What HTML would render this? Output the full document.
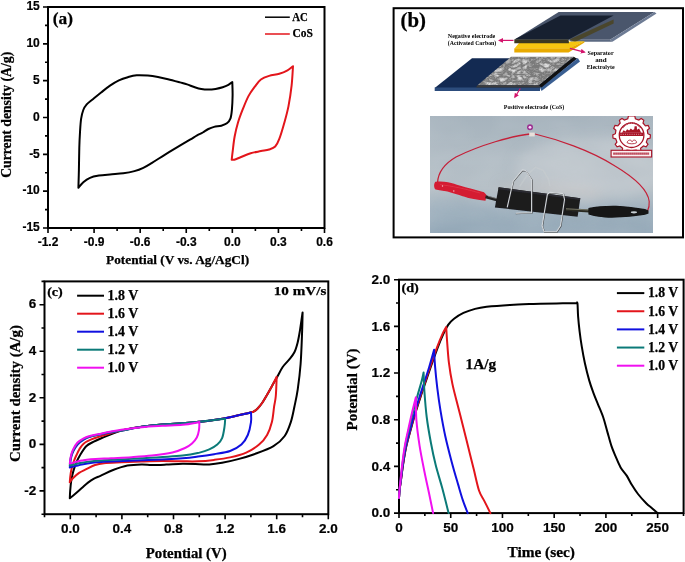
<!DOCTYPE html>
<html><head><meta charset="utf-8"><style>
html,body{margin:0;padding:0;background:#fff;}
svg{display:block;}
svg{will-change:transform;}
</style></head><body>
<svg width="685" height="562" viewBox="0 0 685 562">
<rect width="685" height="562" fill="#fff"/>
<rect x="48" y="7" width="276.50" height="221.00" fill="none" stroke="#000" stroke-width="2"/>
<path d="M48.00,228 v5 M94.08,228 v5 M140.17,228 v5 M186.25,228 v5 M232.33,228 v5 M278.42,228 v5 M324.50,228 v5 M71.04,228 v3 M117.12,228 v3 M163.21,228 v3 M209.29,228 v3 M255.38,228 v3 M301.46,228 v3 " stroke="#000" stroke-width="1.6" fill="none"/>
<text x="48.00" y="245.50" style="font-family:'Liberation Sans',sans-serif;font-weight:bold;font-size:12px" text-anchor="middle" fill="#000" stroke="#000" stroke-width="0.2" >-1.2</text>
<text x="94.08" y="245.50" style="font-family:'Liberation Sans',sans-serif;font-weight:bold;font-size:12px" text-anchor="middle" fill="#000" stroke="#000" stroke-width="0.2" >-0.9</text>
<text x="140.17" y="245.50" style="font-family:'Liberation Sans',sans-serif;font-weight:bold;font-size:12px" text-anchor="middle" fill="#000" stroke="#000" stroke-width="0.2" >-0.6</text>
<text x="186.25" y="245.50" style="font-family:'Liberation Sans',sans-serif;font-weight:bold;font-size:12px" text-anchor="middle" fill="#000" stroke="#000" stroke-width="0.2" >-0.3</text>
<text x="232.33" y="245.50" style="font-family:'Liberation Sans',sans-serif;font-weight:bold;font-size:12px" text-anchor="middle" fill="#000" stroke="#000" stroke-width="0.2" >0.0</text>
<text x="278.42" y="245.50" style="font-family:'Liberation Sans',sans-serif;font-weight:bold;font-size:12px" text-anchor="middle" fill="#000" stroke="#000" stroke-width="0.2" >0.3</text>
<text x="324.50" y="245.50" style="font-family:'Liberation Sans',sans-serif;font-weight:bold;font-size:12px" text-anchor="middle" fill="#000" stroke="#000" stroke-width="0.2" >0.6</text>
<path d="M48,7.00 h-5 M48,43.83 h-5 M48,80.67 h-5 M48,117.50 h-5 M48,154.33 h-5 M48,191.17 h-5 M48,228.00 h-5 M48,25.42 h-3 M48,62.25 h-3 M48,99.08 h-3 M48,135.92 h-3 M48,172.75 h-3 M48,209.58 h-3 " stroke="#000" stroke-width="1.6" fill="none"/>
<text x="39.80" y="10.30" style="font-family:'Liberation Sans',sans-serif;font-weight:bold;font-size:12px" text-anchor="end" fill="#000" stroke="#000" stroke-width="0.2" >15</text>
<text x="39.80" y="47.13" style="font-family:'Liberation Sans',sans-serif;font-weight:bold;font-size:12px" text-anchor="end" fill="#000" stroke="#000" stroke-width="0.2" >10</text>
<text x="39.80" y="83.97" style="font-family:'Liberation Sans',sans-serif;font-weight:bold;font-size:12px" text-anchor="end" fill="#000" stroke="#000" stroke-width="0.2" >5</text>
<text x="39.80" y="120.80" style="font-family:'Liberation Sans',sans-serif;font-weight:bold;font-size:12px" text-anchor="end" fill="#000" stroke="#000" stroke-width="0.2" >0</text>
<text x="39.80" y="157.63" style="font-family:'Liberation Sans',sans-serif;font-weight:bold;font-size:12px" text-anchor="end" fill="#000" stroke="#000" stroke-width="0.2" >-5</text>
<text x="39.80" y="194.47" style="font-family:'Liberation Sans',sans-serif;font-weight:bold;font-size:12px" text-anchor="end" fill="#000" stroke="#000" stroke-width="0.2" >-10</text>
<text x="39.80" y="231.30" style="font-family:'Liberation Sans',sans-serif;font-weight:bold;font-size:12px" text-anchor="end" fill="#000" stroke="#000" stroke-width="0.2" >-15</text>
<path d="M78.40,187.80 C78.48,184.83 78.75,176.67 78.90,170.00 C79.05,163.33 79.12,154.10 79.30,147.80 C79.48,141.50 79.70,137.02 80.00,132.20 C80.30,127.38 80.55,122.60 81.10,118.90 C81.65,115.20 82.37,112.42 83.30,110.00 C84.23,107.58 85.22,106.10 86.70,104.40 C88.18,102.70 89.80,101.78 92.20,99.80 C94.60,97.82 98.13,94.87 101.10,92.50 C104.07,90.13 107.03,87.62 110.00,85.60 C112.97,83.58 115.93,81.80 118.90,80.40 C121.87,79.00 124.83,78.05 127.80,77.20 C130.77,76.35 133.37,75.57 136.70,75.30 C140.03,75.03 144.25,75.32 147.80,75.60 C151.35,75.88 154.63,76.40 158.00,77.00 C161.37,77.60 164.33,78.30 168.00,79.20 C171.67,80.10 176.82,81.53 180.00,82.40 C183.18,83.27 184.73,83.63 187.10,84.40 C189.47,85.17 191.83,86.23 194.20,87.00 C196.57,87.77 198.93,88.57 201.30,89.00 C203.67,89.43 206.02,89.62 208.40,89.60 C210.78,89.58 213.22,89.28 215.60,88.90 C217.98,88.52 220.57,87.97 222.70,87.30 C224.83,86.63 226.80,85.78 228.40,84.90 C230.00,84.02 231.65,82.48 232.30,82.00 L232.30,82.00 C232.35,84.27 232.67,90.97 232.60,95.60 C232.53,100.23 232.25,106.02 231.90,109.80 C231.55,113.58 231.33,116.05 230.50,118.30 C229.67,120.55 228.43,122.07 226.90,123.30 C225.37,124.53 223.43,125.10 221.30,125.70 C219.17,126.30 216.25,126.35 214.10,126.90 C211.95,127.45 210.28,128.07 208.40,129.00 C206.52,129.93 204.68,131.43 202.80,132.50 C200.92,133.57 199.23,134.20 197.10,135.40 C194.97,136.60 193.15,137.82 190.00,139.70 C186.85,141.58 182.35,144.22 178.20,146.70 C174.05,149.18 169.47,151.92 165.10,154.60 C160.73,157.28 155.63,160.60 152.00,162.80 C148.37,165.00 146.23,166.42 143.30,167.80 C140.37,169.18 137.73,170.18 134.40,171.10 C131.07,172.02 127.37,172.75 123.30,173.30 C119.23,173.85 114.07,174.02 110.00,174.40 C105.93,174.78 102.23,175.03 98.90,175.60 C95.57,176.17 92.60,176.70 90.00,177.80 C87.40,178.90 85.23,180.53 83.30,182.20 C81.37,183.87 79.22,186.87 78.40,187.80" stroke="#000" stroke-width="2" fill="none" stroke-linejoin="round" stroke-linecap="round"/>
<path d="M231.70,159.70 C231.87,158.27 232.22,154.92 232.70,151.10 C233.18,147.28 233.72,141.57 234.60,136.80 C235.48,132.03 236.57,127.27 238.00,122.50 C239.43,117.73 241.43,112.63 243.20,108.20 C244.97,103.77 246.67,99.48 248.60,95.90 C250.53,92.32 252.75,89.43 254.80,86.70 C256.85,83.97 258.52,81.30 260.90,79.50 C263.28,77.70 266.03,76.85 269.10,75.90 C272.17,74.95 276.23,74.73 279.30,73.80 C282.37,72.87 285.22,71.57 287.50,70.30 C289.78,69.03 292.08,66.88 293.00,66.20 L293.00,66.20 C292.77,69.45 292.35,79.05 291.60,85.70 C290.85,92.35 289.70,99.97 288.50,106.10 C287.30,112.23 285.93,117.03 284.40,122.50 C282.87,127.97 280.83,134.90 279.30,138.90 C277.77,142.90 276.90,144.73 275.20,146.50 C273.50,148.27 271.48,148.73 269.10,149.50 C266.72,150.27 263.97,150.48 260.90,151.10 C257.83,151.72 254.10,152.17 250.70,153.20 C247.30,154.23 243.23,156.22 240.50,157.30 C237.77,158.38 235.77,159.30 234.30,159.70 C232.83,160.10 232.13,159.70 231.70,159.70" stroke="#e3151b" stroke-width="2" fill="none" stroke-linejoin="round" stroke-linecap="round"/>
<path d="M265,17.2 H289.8" stroke="#000" stroke-width="1.5"/>
<path d="M265,34 H289.8" stroke="#e3151b" stroke-width="1.5"/>
<text x="292.30" y="21.20" style="font-family:'Liberation Serif',serif;font-weight:bold;font-size:13.2px" text-anchor="start" fill="#000" textLength="15.6" lengthAdjust="spacingAndGlyphs" stroke="#000" stroke-width="0.25" >AC</text>
<text x="292.40" y="37.20" style="font-family:'Liberation Serif',serif;font-weight:bold;font-size:13px" text-anchor="start" fill="#000" textLength="20.4" lengthAdjust="spacingAndGlyphs" stroke="#000" stroke-width="0.25" >CoS</text>
<text x="52.80" y="24.40" style="font-family:'Liberation Serif',serif;font-weight:bold;font-size:17.5px" text-anchor="start" fill="#000" textLength="20.2" lengthAdjust="spacingAndGlyphs" stroke="#000" stroke-width="0.25" >(a)</text>
<text x="177.60" y="263.70" style="font-family:'Liberation Serif',serif;font-weight:bold;font-size:13px" text-anchor="middle" fill="#000" textLength="143" lengthAdjust="spacingAndGlyphs" stroke="#000" stroke-width="0.25" >Potential (V vs. Ag/AgCl)</text>
<text transform="translate(11.3,114.8) rotate(-90)" x="0" y="0" stroke="#000" stroke-width="0.25" style="font-family:'Liberation Serif',serif;font-weight:bold;font-size:14.5px" text-anchor="middle" textLength="126" lengthAdjust="spacingAndGlyphs">Current density (A/g)</text>
<rect x="44.5" y="281.4" width="283.80" height="232.80" fill="none" stroke="#000" stroke-width="2"/>
<path d="M70.30,514.2 v5 M121.90,514.2 v5 M173.50,514.2 v5 M225.10,514.2 v5 M276.70,514.2 v5 M328.30,514.2 v5 M44.50,514.2 v3 M96.10,514.2 v3 M147.70,514.2 v3 M199.30,514.2 v3 M250.90,514.2 v3 M302.50,514.2 v3 " stroke="#000" stroke-width="1.6" fill="none"/>
<text x="70.30" y="533.30" style="font-family:'Liberation Sans',sans-serif;font-weight:bold;font-size:13.5px" text-anchor="middle" fill="#000" stroke="#000" stroke-width="0.2" >0.0</text>
<text x="121.90" y="533.30" style="font-family:'Liberation Sans',sans-serif;font-weight:bold;font-size:13.5px" text-anchor="middle" fill="#000" stroke="#000" stroke-width="0.2" >0.4</text>
<text x="173.50" y="533.30" style="font-family:'Liberation Sans',sans-serif;font-weight:bold;font-size:13.5px" text-anchor="middle" fill="#000" stroke="#000" stroke-width="0.2" >0.8</text>
<text x="225.10" y="533.30" style="font-family:'Liberation Sans',sans-serif;font-weight:bold;font-size:13.5px" text-anchor="middle" fill="#000" stroke="#000" stroke-width="0.2" >1.2</text>
<text x="276.70" y="533.30" style="font-family:'Liberation Sans',sans-serif;font-weight:bold;font-size:13.5px" text-anchor="middle" fill="#000" stroke="#000" stroke-width="0.2" >1.6</text>
<text x="328.30" y="533.30" style="font-family:'Liberation Sans',sans-serif;font-weight:bold;font-size:13.5px" text-anchor="middle" fill="#000" stroke="#000" stroke-width="0.2" >2.0</text>
<path d="M44.5,304.68 h-5 M44.5,351.24 h-5 M44.5,397.80 h-5 M44.5,444.36 h-5 M44.5,490.92 h-5 M44.5,281.40 h-3 M44.5,327.96 h-3 M44.5,374.52 h-3 M44.5,421.08 h-3 M44.5,467.64 h-3 M44.5,514.20 h-3 " stroke="#000" stroke-width="1.6" fill="none"/>
<text x="36.20" y="308.38" style="font-family:'Liberation Sans',sans-serif;font-weight:bold;font-size:13.5px" text-anchor="end" fill="#000" stroke="#000" stroke-width="0.2" >6</text>
<text x="36.20" y="354.94" style="font-family:'Liberation Sans',sans-serif;font-weight:bold;font-size:13.5px" text-anchor="end" fill="#000" stroke="#000" stroke-width="0.2" >4</text>
<text x="36.20" y="401.50" style="font-family:'Liberation Sans',sans-serif;font-weight:bold;font-size:13.5px" text-anchor="end" fill="#000" stroke="#000" stroke-width="0.2" >2</text>
<text x="36.20" y="448.06" style="font-family:'Liberation Sans',sans-serif;font-weight:bold;font-size:13.5px" text-anchor="end" fill="#000" stroke="#000" stroke-width="0.2" >0</text>
<text x="36.20" y="494.62" style="font-family:'Liberation Sans',sans-serif;font-weight:bold;font-size:13.5px" text-anchor="end" fill="#000" stroke="#000" stroke-width="0.2" >-2</text>
<text x="47.20" y="296.20" style="font-family:'Liberation Serif',serif;font-weight:bold;font-size:13px" text-anchor="start" fill="#000" textLength="15.6" lengthAdjust="spacingAndGlyphs" stroke="#000" stroke-width="0.25" >(c)</text>
<text x="273.80" y="295.00" style="font-family:'Liberation Serif',serif;font-weight:bold;font-size:13.5px" text-anchor="start" fill="#000" textLength="52.5" lengthAdjust="spacingAndGlyphs" stroke="#000" stroke-width="0.25" >10 mV/s</text>
<path d="M77.1,295.70 H104" stroke="#000" stroke-width="2"/>
<text x="107.60" y="299.80" style="font-family:'Liberation Serif',serif;font-weight:bold;font-size:14.2px" text-anchor="start" fill="#000" textLength="30.6" lengthAdjust="spacingAndGlyphs" stroke="#000" stroke-width="0.25" >1.8 V</text>
<path d="M77.1,313.70 H104" stroke="#e3151b" stroke-width="2"/>
<text x="107.60" y="317.80" style="font-family:'Liberation Serif',serif;font-weight:bold;font-size:14.2px" text-anchor="start" fill="#000" textLength="30.6" lengthAdjust="spacingAndGlyphs" stroke="#000" stroke-width="0.25" >1.6 V</text>
<path d="M77.1,331.70 H104" stroke="#1010e0" stroke-width="2"/>
<text x="107.60" y="335.80" style="font-family:'Liberation Serif',serif;font-weight:bold;font-size:14.2px" text-anchor="start" fill="#000" textLength="30.6" lengthAdjust="spacingAndGlyphs" stroke="#000" stroke-width="0.25" >1.4 V</text>
<path d="M77.1,349.70 H104" stroke="#0b7a78" stroke-width="2"/>
<text x="107.60" y="353.80" style="font-family:'Liberation Serif',serif;font-weight:bold;font-size:14.2px" text-anchor="start" fill="#000" textLength="30.6" lengthAdjust="spacingAndGlyphs" stroke="#000" stroke-width="0.25" >1.2 V</text>
<path d="M77.1,367.70 H104" stroke="#f010f0" stroke-width="2"/>
<text x="107.60" y="371.80" style="font-family:'Liberation Serif',serif;font-weight:bold;font-size:14.2px" text-anchor="start" fill="#000" textLength="30.6" lengthAdjust="spacingAndGlyphs" stroke="#000" stroke-width="0.25" >1.0 V</text>
<text x="186.20" y="558.00" style="font-family:'Liberation Serif',serif;font-weight:bold;font-size:14px" text-anchor="middle" fill="#000" textLength="80.9" lengthAdjust="spacingAndGlyphs" stroke="#000" stroke-width="0.25" >Potential (V)</text>
<text transform="translate(20.2,393.6) rotate(-90)" x="0" y="0" stroke="#000" stroke-width="0.25" style="font-family:'Liberation Serif',serif;font-weight:bold;font-size:15.2px" text-anchor="middle" textLength="137" lengthAdjust="spacingAndGlyphs">Current density (A/g)</text>
<path d="M69.80,498.20 C69.87,496.93 69.98,493.35 70.20,490.60 C70.42,487.85 70.72,484.37 71.10,481.70 C71.48,479.03 71.98,476.82 72.50,474.60 C73.02,472.38 73.53,470.48 74.20,468.40 C74.87,466.32 75.60,464.18 76.50,462.10 C77.40,460.02 77.98,458.53 79.60,455.90 C81.22,453.27 83.92,448.63 86.20,446.30 C88.48,443.97 90.78,443.23 93.30,441.90 C95.82,440.57 96.63,440.18 101.30,438.30 C105.97,436.42 114.57,432.52 121.30,430.60 C128.03,428.68 134.88,427.83 141.70,426.80 C148.52,425.77 155.38,425.00 162.20,424.40 C169.02,423.80 176.47,423.63 182.60,423.20 C188.73,422.77 192.13,422.60 199.00,421.80 C205.87,421.00 215.38,419.92 223.80,418.40 C232.22,416.88 244.55,413.83 249.50,412.70 C254.45,411.57 252.18,412.25 253.50,411.60 C254.82,410.95 255.93,410.27 257.40,408.80 C258.87,407.33 260.68,405.13 262.30,402.80 C263.92,400.47 265.48,397.60 267.10,394.80 C268.72,392.00 270.30,389.00 272.00,386.00 C273.70,383.00 275.52,379.97 277.30,376.80 C279.08,373.63 280.73,369.85 282.70,367.00 C284.67,364.15 287.15,362.15 289.10,359.70 C291.05,357.25 292.98,355.13 294.40,352.30 C295.82,349.47 296.72,346.08 297.60,342.70 C298.48,339.32 298.98,336.27 299.70,332.00 C300.42,327.73 301.42,320.37 301.90,317.10 C302.38,313.83 302.48,313.18 302.60,312.40 L302.60,312.40 C302.52,315.67 302.43,323.40 302.10,332.00 C301.77,340.60 301.33,354.40 300.60,364.00 C299.87,373.60 298.73,382.48 297.70,389.60 C296.67,396.72 295.55,401.28 294.40,406.70 C293.25,412.12 292.42,417.22 290.80,422.10 C289.18,426.98 287.58,431.98 284.70,436.00 C281.82,440.02 278.58,443.17 273.50,446.20 C268.42,449.23 260.08,452.05 254.20,454.20 C248.32,456.35 243.55,457.67 238.20,459.10 C232.85,460.53 226.92,461.90 222.10,462.80 C217.28,463.70 213.05,464.27 209.30,464.50 C205.55,464.73 204.05,464.32 199.60,464.20 C195.15,464.08 188.15,463.73 182.60,463.80 C177.05,463.87 171.40,464.40 166.30,464.60 C161.20,464.80 156.10,465.03 152.00,465.00 C147.90,464.97 145.80,464.32 141.70,464.40 C137.60,464.48 132.17,464.57 127.40,465.50 C122.63,466.43 117.52,468.32 113.10,470.00 C108.68,471.68 104.08,474.17 100.90,475.60 C97.72,477.03 96.15,477.43 94.00,478.60 C91.85,479.77 90.03,481.03 88.00,482.60 C85.97,484.17 84.02,486.07 81.80,488.00 C79.58,489.93 76.70,492.50 74.70,494.20 C72.70,495.90 70.62,497.53 69.80,498.20" stroke="#000" stroke-width="2" fill="none" stroke-linejoin="round" stroke-linecap="round"/>
<path d="M69.80,482.20 C69.87,481.38 69.98,479.17 70.20,477.30 C70.42,475.43 70.72,472.93 71.10,471.00 C71.48,469.07 71.98,467.48 72.50,465.70 C73.02,463.92 73.53,462.08 74.20,460.30 C74.87,458.52 75.62,456.88 76.50,455.00 C77.38,453.12 78.32,450.88 79.50,449.00 C80.68,447.12 81.73,445.25 83.60,443.70 C85.47,442.15 88.03,440.88 90.70,439.70 C93.37,438.52 96.38,437.63 99.60,436.60 C102.82,435.57 106.38,434.50 110.00,433.50 C113.62,432.50 116.02,431.72 121.30,430.60 C126.58,429.48 134.88,427.83 141.70,426.80 C148.52,425.77 155.38,425.00 162.20,424.40 C169.02,423.80 176.47,423.63 182.60,423.20 C188.73,422.77 192.13,422.60 199.00,421.80 C205.87,421.00 215.38,419.92 223.80,418.40 C232.22,416.88 244.55,413.83 249.50,412.70 C254.45,411.57 252.18,412.25 253.50,411.60 C254.82,410.95 255.93,410.27 257.40,408.80 C258.87,407.33 260.68,405.13 262.30,402.80 C263.92,400.47 265.48,397.60 267.10,394.80 C268.72,392.00 270.40,389.00 272.00,386.00 C273.60,383.00 275.92,378.33 276.70,376.80 L276.70,376.80 C276.55,380.00 276.23,391.02 275.80,396.00 C275.37,400.98 274.75,402.35 274.10,406.70 C273.45,411.05 273.07,417.38 271.90,422.10 C270.73,426.82 269.23,431.25 267.10,435.00 C264.97,438.75 262.58,441.67 259.10,444.60 C255.62,447.53 251.03,450.47 246.20,452.60 C241.37,454.73 235.45,456.18 230.10,457.40 C224.75,458.62 219.45,459.25 214.10,459.90 C208.75,460.55 203.25,461.07 198.00,461.30 C192.75,461.53 188.57,461.35 182.60,461.30 C176.63,461.25 169.02,460.97 162.20,461.00 C155.38,461.03 148.52,461.28 141.70,461.50 C134.88,461.72 127.58,462.02 121.30,462.30 C115.02,462.58 108.37,462.75 104.00,463.20 C99.63,463.65 98.05,464.00 95.10,465.00 C92.15,466.00 88.97,467.90 86.30,469.20 C83.63,470.50 81.33,471.30 79.10,472.80 C76.87,474.30 74.45,476.63 72.90,478.20 C71.35,479.77 70.32,481.53 69.80,482.20" stroke="#e3151b" stroke-width="2" fill="none" stroke-linejoin="round" stroke-linecap="round"/>
<path d="M69.80,467.50 C69.88,466.58 70.03,463.83 70.30,462.00 C70.57,460.17 70.90,458.30 71.40,456.50 C71.90,454.70 72.27,453.20 73.30,451.20 C74.33,449.20 75.85,446.43 77.60,444.50 C79.35,442.57 81.60,440.92 83.80,439.60 C86.00,438.28 88.13,437.43 90.80,436.60 C93.47,435.77 96.60,435.27 99.80,434.60 C103.00,433.93 106.42,433.27 110.00,432.60 C113.58,431.93 116.02,431.57 121.30,430.60 C126.58,429.63 134.88,427.83 141.70,426.80 C148.52,425.77 155.38,425.00 162.20,424.40 C169.02,423.80 176.47,423.63 182.60,423.20 C188.73,422.77 192.13,422.60 199.00,421.80 C205.87,421.00 215.13,419.95 223.80,418.40 C232.47,416.85 246.47,413.48 251.00,412.50 L251.00,412.50 C251.00,414.10 251.53,418.35 251.00,422.10 C250.47,425.85 249.40,431.25 247.80,435.00 C246.20,438.75 244.35,441.93 241.40,444.60 C238.45,447.27 234.65,449.40 230.10,451.00 C225.55,452.60 219.45,453.27 214.10,454.20 C208.75,455.13 203.25,455.93 198.00,456.60 C192.75,457.27 191.98,457.58 182.60,458.20 C173.22,458.82 154.80,459.70 141.70,460.30 C128.60,460.90 111.95,461.42 104.00,461.80 C96.05,462.18 97.70,462.15 94.00,462.60 C90.30,463.05 85.83,463.68 81.80,464.50 C77.77,465.32 71.80,467.00 69.80,467.50" stroke="#1010e0" stroke-width="2" fill="none" stroke-linejoin="round" stroke-linecap="round"/>
<path d="M69.80,465.50 C69.88,464.67 70.05,462.17 70.30,460.50 C70.55,458.83 70.83,457.17 71.30,455.50 C71.77,453.83 72.08,452.48 73.10,450.50 C74.12,448.52 75.63,445.52 77.40,443.60 C79.17,441.68 81.48,440.23 83.70,439.00 C85.92,437.77 88.03,436.98 90.70,436.20 C93.37,435.42 96.48,434.97 99.70,434.30 C102.92,433.63 106.40,432.82 110.00,432.20 C113.60,431.58 116.02,431.50 121.30,430.60 C126.58,429.70 134.88,427.83 141.70,426.80 C148.52,425.77 155.38,425.00 162.20,424.40 C169.02,423.80 176.47,423.63 182.60,423.20 C188.73,422.77 191.90,422.55 199.00,421.80 C206.10,421.05 220.83,419.22 225.20,418.70 L225.20,418.70 C225.08,420.07 225.02,423.65 224.50,426.90 C223.98,430.15 223.30,435.25 222.10,438.20 C220.90,441.15 219.43,442.73 217.30,444.60 C215.17,446.47 212.25,448.07 209.30,449.40 C206.35,450.73 204.05,451.58 199.60,452.60 C195.15,453.62 192.25,454.55 182.60,455.50 C172.95,456.45 154.80,457.52 141.70,458.30 C128.60,459.08 111.95,459.75 104.00,460.20 C96.05,460.65 97.70,460.58 94.00,461.00 C90.30,461.42 85.83,461.95 81.80,462.70 C77.77,463.45 71.80,465.03 69.80,465.50" stroke="#0b7a78" stroke-width="2" fill="none" stroke-linejoin="round" stroke-linecap="round"/>
<path d="M69.80,463.50 C69.95,462.42 70.18,459.27 70.70,457.00 C71.22,454.73 71.80,452.27 72.90,449.90 C74.00,447.53 75.52,444.73 77.30,442.80 C79.08,440.87 81.37,439.48 83.60,438.30 C85.83,437.12 88.03,436.43 90.70,435.70 C93.37,434.97 96.38,434.55 99.60,433.90 C102.82,433.25 106.38,432.48 110.00,431.80 C113.62,431.12 116.02,430.57 121.30,429.80 C126.58,429.03 134.88,427.87 141.70,427.20 C148.52,426.53 155.38,426.20 162.20,425.80 C169.02,425.40 176.40,425.42 182.60,424.80 C188.80,424.18 196.60,422.55 199.40,422.10 L199.40,422.10 C199.33,423.42 199.43,427.43 199.00,430.00 C198.57,432.57 197.97,435.25 196.80,437.50 C195.63,439.75 193.97,441.75 192.00,443.50 C190.03,445.25 188.27,446.50 185.00,448.00 C181.73,449.50 177.90,451.23 172.40,452.50 C166.90,453.77 158.82,454.82 152.00,455.60 C145.18,456.38 138.32,456.77 131.50,457.20 C124.68,457.63 117.90,457.87 111.10,458.20 C104.30,458.53 95.58,458.80 90.70,459.20 C85.82,459.60 85.28,459.88 81.80,460.60 C78.32,461.32 71.80,463.02 69.80,463.50" stroke="#f010f0" stroke-width="2" fill="none" stroke-linejoin="round" stroke-linecap="round"/>
<rect x="399.0" y="279.7" width="284.60" height="233.40" fill="none" stroke="#000" stroke-width="2"/>
<path d="M399.00,513.1 v5 M450.73,513.1 v5 M502.45,513.1 v5 M554.18,513.1 v5 M605.91,513.1 v5 M657.63,513.1 v5 M424.86,513.1 v3 M476.59,513.1 v3 M528.32,513.1 v3 M580.04,513.1 v3 M631.77,513.1 v3 M683.50,513.1 v3 " stroke="#000" stroke-width="1.6" fill="none"/>
<text x="399.00" y="532.10" style="font-family:'Liberation Sans',sans-serif;font-weight:bold;font-size:13.5px" text-anchor="middle" fill="#000" stroke="#000" stroke-width="0.2" >0</text>
<text x="450.73" y="532.10" style="font-family:'Liberation Sans',sans-serif;font-weight:bold;font-size:13.5px" text-anchor="middle" fill="#000" stroke="#000" stroke-width="0.2" >50</text>
<text x="502.45" y="532.10" style="font-family:'Liberation Sans',sans-serif;font-weight:bold;font-size:13.5px" text-anchor="middle" fill="#000" stroke="#000" stroke-width="0.2" >100</text>
<text x="554.18" y="532.10" style="font-family:'Liberation Sans',sans-serif;font-weight:bold;font-size:13.5px" text-anchor="middle" fill="#000" stroke="#000" stroke-width="0.2" >150</text>
<text x="605.91" y="532.10" style="font-family:'Liberation Sans',sans-serif;font-weight:bold;font-size:13.5px" text-anchor="middle" fill="#000" stroke="#000" stroke-width="0.2" >200</text>
<text x="657.63" y="532.10" style="font-family:'Liberation Sans',sans-serif;font-weight:bold;font-size:13.5px" text-anchor="middle" fill="#000" stroke="#000" stroke-width="0.2" >250</text>
<path d="M399.0,513.10 h-5 M399.0,466.42 h-5 M399.0,419.74 h-5 M399.0,373.06 h-5 M399.0,326.38 h-5 M399.0,279.70 h-5 M399.0,489.76 h-3 M399.0,443.08 h-3 M399.0,396.40 h-3 M399.0,349.72 h-3 M399.0,303.04 h-3 " stroke="#000" stroke-width="1.6" fill="none"/>
<text x="390.40" y="517.40" style="font-family:'Liberation Sans',sans-serif;font-weight:bold;font-size:13.5px" text-anchor="end" fill="#000" stroke="#000" stroke-width="0.2" >0.0</text>
<text x="390.40" y="470.72" style="font-family:'Liberation Sans',sans-serif;font-weight:bold;font-size:13.5px" text-anchor="end" fill="#000" stroke="#000" stroke-width="0.2" >0.4</text>
<text x="390.40" y="424.04" style="font-family:'Liberation Sans',sans-serif;font-weight:bold;font-size:13.5px" text-anchor="end" fill="#000" stroke="#000" stroke-width="0.2" >0.8</text>
<text x="390.40" y="377.36" style="font-family:'Liberation Sans',sans-serif;font-weight:bold;font-size:13.5px" text-anchor="end" fill="#000" stroke="#000" stroke-width="0.2" >1.2</text>
<text x="390.40" y="330.68" style="font-family:'Liberation Sans',sans-serif;font-weight:bold;font-size:13.5px" text-anchor="end" fill="#000" stroke="#000" stroke-width="0.2" >1.6</text>
<text x="390.40" y="284.00" style="font-family:'Liberation Sans',sans-serif;font-weight:bold;font-size:13.5px" text-anchor="end" fill="#000" stroke="#000" stroke-width="0.2" >2.0</text>
<text x="401.40" y="291.90" style="font-family:'Liberation Serif',serif;font-weight:bold;font-size:13px" text-anchor="start" fill="#000" textLength="17.4" lengthAdjust="spacingAndGlyphs" stroke="#000" stroke-width="0.25" >(d)</text>
<text x="465.50" y="369.30" style="font-family:'Liberation Serif',serif;font-weight:bold;font-size:14px" text-anchor="start" fill="#000" textLength="30.5" lengthAdjust="spacingAndGlyphs" stroke="#000" stroke-width="0.25" >1A/g</text>
<path d="M616.9,293.10 H644.3" stroke="#000" stroke-width="2"/>
<text x="647.90" y="297.40" style="font-family:'Liberation Serif',serif;font-weight:bold;font-size:14.2px" text-anchor="start" fill="#000" textLength="30.3" lengthAdjust="spacingAndGlyphs" stroke="#000" stroke-width="0.25" >1.8 V</text>
<path d="M616.9,311.25 H644.3" stroke="#e3151b" stroke-width="2"/>
<text x="647.90" y="315.55" style="font-family:'Liberation Serif',serif;font-weight:bold;font-size:14.2px" text-anchor="start" fill="#000" textLength="30.3" lengthAdjust="spacingAndGlyphs" stroke="#000" stroke-width="0.25" >1.6 V</text>
<path d="M616.9,329.40 H644.3" stroke="#1010e0" stroke-width="2"/>
<text x="647.90" y="333.70" style="font-family:'Liberation Serif',serif;font-weight:bold;font-size:14.2px" text-anchor="start" fill="#000" textLength="30.3" lengthAdjust="spacingAndGlyphs" stroke="#000" stroke-width="0.25" >1.4 V</text>
<path d="M616.9,347.55 H644.3" stroke="#0b7a78" stroke-width="2"/>
<text x="647.90" y="351.85" style="font-family:'Liberation Serif',serif;font-weight:bold;font-size:14.2px" text-anchor="start" fill="#000" textLength="30.3" lengthAdjust="spacingAndGlyphs" stroke="#000" stroke-width="0.25" >1.2 V</text>
<path d="M616.9,365.70 H644.3" stroke="#f010f0" stroke-width="2"/>
<text x="647.90" y="370.00" style="font-family:'Liberation Serif',serif;font-weight:bold;font-size:14.2px" text-anchor="start" fill="#000" textLength="30.3" lengthAdjust="spacingAndGlyphs" stroke="#000" stroke-width="0.25" >1.0 V</text>
<text x="541.20" y="557.40" style="font-family:'Liberation Serif',serif;font-weight:bold;font-size:14px" text-anchor="middle" fill="#000" textLength="67.5" lengthAdjust="spacingAndGlyphs" stroke="#000" stroke-width="0.25" >Time (sec)</text>
<text transform="translate(357.4,389.5) rotate(-90)" x="0" y="0" stroke="#000" stroke-width="0.25" style="font-family:'Liberation Serif',serif;font-weight:bold;font-size:14.6px" text-anchor="middle" textLength="82" lengthAdjust="spacingAndGlyphs">Potential (V)</text>
<path d="M399.00,497.93 C399.10,496.57 399.28,492.87 399.62,489.76 C399.97,486.65 400.48,483.54 401.07,479.26 C401.66,474.98 402.28,469.53 403.14,464.09 C404.00,458.64 404.95,452.42 406.24,446.58 C407.53,440.75 409.29,434.91 410.90,429.08 C412.50,423.24 414.22,417.02 415.86,411.57 C417.50,406.12 419.05,401.46 420.73,396.40 C422.40,391.34 424.24,386.09 425.90,381.23 C427.55,376.37 428.67,372.87 430.66,367.23 C432.64,361.58 435.73,352.83 437.79,347.39 C439.86,341.94 441.31,338.34 443.07,334.55 C444.83,330.76 446.52,327.26 448.35,324.63 C450.17,322.00 451.52,320.74 454.04,318.79 C456.55,316.85 459.95,314.61 463.45,312.96 C466.95,311.31 471.18,309.91 475.04,308.88 C478.90,307.84 480.81,307.44 486.62,306.77 C492.44,306.11 502.09,305.37 509.90,304.91 C517.71,304.44 525.70,304.23 533.49,303.97 C541.28,303.72 549.49,303.55 556.66,303.39 C563.84,303.23 573.22,303.10 576.53,303.04 L576.70,302.90 C576.83,303.00 577.27,301.25 577.50,303.50 C577.73,305.75 577.75,311.77 578.10,316.40 C578.45,321.03 579.00,326.33 579.60,331.30 C580.20,336.27 580.82,340.87 581.70,346.20 C582.58,351.53 583.65,357.60 584.90,363.30 C586.15,369.00 587.77,375.42 589.20,380.40 C590.63,385.38 592.07,389.28 593.50,393.20 C594.93,397.12 596.18,399.88 597.80,403.90 C599.42,407.92 601.62,412.68 603.20,417.30 C604.78,421.92 605.93,426.83 607.30,431.60 C608.67,436.37 610.03,441.80 611.40,445.90 C612.77,450.00 613.97,452.62 615.50,456.20 C617.03,459.78 618.73,464.17 620.60,467.40 C622.47,470.63 624.83,472.70 626.70,475.60 C628.57,478.50 629.92,481.73 631.80,484.80 C633.68,487.87 635.60,490.93 638.00,494.00 C640.40,497.07 643.82,500.80 646.20,503.20 C648.58,505.60 650.40,506.75 652.30,508.40 C654.20,510.05 656.72,512.32 657.60,513.10" stroke="#000" stroke-width="2" fill="none" stroke-linejoin="round" stroke-linecap="round"/>
<path d="M399.00,497.93 C399.10,496.57 399.27,492.87 399.61,489.76 C399.95,486.65 400.45,483.54 401.03,479.26 C401.60,474.98 402.21,469.53 403.06,464.09 C403.90,458.64 404.83,452.42 406.10,446.58 C407.37,440.75 409.09,434.91 410.66,429.08 C412.24,423.24 413.93,417.02 415.53,411.57 C417.14,406.12 418.66,401.46 420.30,396.40 C421.94,391.34 423.75,386.09 425.37,381.23 C426.99,376.37 428.09,372.87 430.04,367.23 C431.98,361.58 435.01,352.83 437.03,347.39 C439.06,341.94 440.68,337.93 442.21,334.55 C443.73,331.17 445.53,328.34 446.20,327.10 L446.20,327.10 C446.35,329.47 446.65,335.38 447.10,341.30 C447.55,347.22 448.02,355.50 448.90,362.60 C449.78,369.70 450.93,376.80 452.40,383.90 C453.87,391.00 455.92,398.10 457.70,405.20 C459.48,412.30 461.32,419.40 463.10,426.50 C464.88,433.60 466.63,440.70 468.40,447.80 C470.17,454.90 471.93,461.98 473.70,469.10 C475.47,476.22 477.22,485.17 479.00,490.50 C480.78,495.83 482.50,497.33 484.40,501.10 C486.30,504.87 489.40,511.10 490.40,513.10" stroke="#e3151b" stroke-width="2" fill="none" stroke-linejoin="round" stroke-linecap="round"/>
<path d="M399.00,497.93 C399.10,496.57 399.26,492.87 399.59,489.76 C399.92,486.65 400.41,483.54 400.97,479.26 C401.53,474.98 402.12,469.53 402.94,464.09 C403.76,458.64 404.67,452.42 405.90,446.58 C407.13,440.75 408.80,434.91 410.33,429.08 C411.86,423.24 413.50,417.02 415.06,411.57 C416.62,406.12 418.10,401.46 419.69,396.40 C421.28,391.34 423.04,386.09 424.62,381.23 C426.19,376.37 427.57,372.46 429.15,367.23 C430.73,361.99 433.27,352.70 434.10,349.80 L434.10,349.80 C434.25,352.45 434.47,359.32 435.00,365.70 C435.53,372.08 436.38,380.62 437.30,388.10 C438.22,395.58 439.17,402.58 440.50,410.60 C441.83,418.62 443.43,427.65 445.30,436.20 C447.17,444.75 449.57,453.87 451.70,461.90 C453.83,469.93 456.23,477.98 458.10,484.40 C459.97,490.82 461.30,495.62 462.90,500.40 C464.50,505.18 466.90,510.98 467.70,513.10" stroke="#1010e0" stroke-width="2" fill="none" stroke-linejoin="round" stroke-linecap="round"/>
<path d="M399.00,497.93 C399.09,496.57 399.23,492.87 399.52,489.76 C399.81,486.65 400.25,483.54 400.74,479.26 C401.23,474.98 401.75,469.53 402.48,464.09 C403.20,458.64 404.00,452.42 405.09,446.58 C406.17,440.75 407.65,434.91 409.00,429.08 C410.35,423.24 411.79,417.02 413.17,411.57 C414.55,406.12 415.85,401.46 417.26,396.40 C418.66,391.34 420.55,385.21 421.60,381.23 C422.66,377.25 423.27,373.95 423.60,372.50 L423.60,372.50 C423.73,375.63 423.88,383.88 424.40,391.30 C424.92,398.72 425.62,408.43 426.70,417.00 C427.78,425.57 429.40,434.68 430.90,442.70 C432.40,450.72 433.83,457.62 435.70,465.10 C437.57,472.58 439.95,479.60 442.10,487.60 C444.25,495.60 447.52,508.85 448.60,513.10" stroke="#0b7a78" stroke-width="2" fill="none" stroke-linejoin="round" stroke-linecap="round"/>
<path d="M399.00,497.93 C399.08,496.57 399.22,492.87 399.49,489.76 C399.76,486.65 400.17,483.54 400.63,479.26 C401.09,474.98 401.58,469.53 402.26,464.09 C402.94,458.64 403.68,452.42 404.70,446.58 C405.72,440.75 407.11,434.91 408.37,429.08 C409.63,423.24 411.02,416.88 412.28,411.57 C413.53,406.26 415.30,399.60 415.90,397.20 L415.90,397.20 C415.98,401.03 415.78,412.08 416.40,420.20 C417.02,428.32 418.27,437.35 419.60,445.90 C420.93,454.45 422.80,463.48 424.40,471.50 C426.00,479.52 427.75,487.07 429.20,494.00 C430.65,500.93 432.45,509.92 433.10,513.10" stroke="#f010f0" stroke-width="2" fill="none" stroke-linejoin="round" stroke-linecap="round"/>
<rect x="393.6" y="8.2" width="289.4" height="229.2" fill="none" stroke="#000" stroke-width="2"/>
<text x="400.50" y="27.20" style="font-family:'Liberation Serif',serif;font-weight:bold;font-size:20px" text-anchor="start" fill="#000" textLength="25.4" lengthAdjust="spacingAndGlyphs" stroke="#000" stroke-width="0.25" >(b)</text>
<defs>
<filter id="semf" x="0" y="0" width="100%" height="100%">
  <feTurbulence type="turbulence" baseFrequency="0.18 0.22" numOctaves="3" seed="11" result="n"/>
  <feColorMatrix in="n" type="matrix" values="0 0 0 0 0  0 0 0 0 0  0 0 0 0 0  1.9 0 0 0 -0.3" result="a"/>
  <feFlood flood-color="#dcdcdc"/>
  <feComposite in2="a" operator="in"/>
</filter>
<filter id="phn" x="0" y="0" width="100%" height="100%">
  <feTurbulence type="fractalNoise" baseFrequency="0.02 0.04" numOctaves="2" seed="4" result="n"/>
  <feColorMatrix in="n" type="matrix" values="0 0 0 0 1  0 0 0 0 1  0 0 0 0 1  0.5 0 0 0 -0.15"/>
</filter>
<filter id="blur1" x="-20%" y="-20%" width="140%" height="140%"><feGaussianBlur stdDeviation="6"/></filter>
<filter id="blur05" x="-5%" y="-5%" width="110%" height="110%"><feGaussianBlur stdDeviation="0.45"/></filter>
<filter id="blur03" x="-10%" y="-10%" width="120%" height="120%"><feGaussianBlur stdDeviation="0.3"/></filter>
<clipPath id="semclip"><polygon points="511,56.8 573.9,56.8 539,85.2 477.5,85.2"/></clipPath>
<clipPath id="photoclip"><rect x="430" y="116" width="223" height="117"/></clipPath>
<linearGradient id="bgph" x1="0" y1="0" x2="0" y2="1">
  <stop offset="0" stop-color="#a6b3bd"/>
  <stop offset="0.4" stop-color="#b1bcc4"/>
  <stop offset="0.62" stop-color="#b4bec5"/>
  <stop offset="0.8" stop-color="#a2b2bf"/>
  <stop offset="1" stop-color="#97aaba"/>
</linearGradient>
<marker id="arr" markerWidth="6" markerHeight="6" refX="3.5" refY="3" orient="auto" markerUnits="userSpaceOnUse">
  <path d="M0,0.6 L5,3 L0,5.4 Z" fill="#d4146c"/>
</marker>
</defs>
<!-- top negative electrode -->
<polygon points="558.7,12.1 654.5,12.1 610,39.8 514.3,39.8" fill="#4a566c"/>
<polygon points="654.5,12.1 656.5,13.4 612.4,41.8 610,39.8" fill="#6d7b94"/>
<polygon points="568.6,39.8 610,39.8 612.4,41.8 571,41.8" fill="#5c6a82"/>
<polygon points="560.5,15.6 613.6,15.6 568.6,39.6 514.3,39.6" fill="#172030"/>
<polygon points="613.6,19.5 613.6,23.5 575,42 569.5,39.6" fill="#4a4526" opacity="0.9"/>
<!-- yellow separator -->
<polygon points="519,43 584.4,41.3 568.6,48.8 514.3,48.8" fill="#f6c510"/>
<polygon points="514.3,48.6 568.6,48.6 584.4,41.3 584.4,42.5 568.6,52.4 514.3,52.4" fill="#e8aa00"/>
<polygon points="514.3,39.6 568.6,39.6 569,43.2 514.3,43.2" fill="#3c3820"/>
<!-- bottom positive electrode -->
<polygon points="472,58.2 578,58.2 540,88 434.7,88" fill="#132a52"/>
<polygon points="434.7,87.4 540,87.4 540,90.9 434.7,90.9" fill="#2c4c7c"/>
<polygon points="578,58.2 580,61.5 541.5,91 540,87.5" fill="#3a5f92"/>
<polygon points="511,56.8 573.9,56.8 539,85.2 477.5,85.2" fill="#7a7a7a"/>
<rect x="477" y="56" width="98" height="30" filter="url(#semf)" clip-path="url(#semclip)"/>
<polygon points="573.9,56.8 576.5,58.5 541.5,87.5 539,85.2" fill="#111"/>
<polygon points="477.5,85.2 539,85.2 540.5,87.6 476,87.6" fill="#3b3b3b"/>
<!-- arrows -->
<path d="M513.5,40.4 H499.5" stroke="#d4146c" stroke-width="1.2" marker-end="url(#arr)"/>
<path d="M570,48.3 L584.3,52.1" stroke="#d4146c" stroke-width="1.2" marker-end="url(#arr)"/>
<path d="M520.3,88.5 L515,97" stroke="#d4146c" stroke-width="1.2" marker-end="url(#arr)"/>
<!-- labels -->
<text x="471.5" y="38" style="font-family:'Liberation Serif',serif;font-weight:bold;font-size:6.6px" text-anchor="middle" textLength="47.5" lengthAdjust="spacingAndGlyphs">Negative electrode</text>
<text x="472" y="45.2" style="font-family:'Liberation Serif',serif;font-weight:bold;font-size:6.6px" text-anchor="middle" textLength="48.5" lengthAdjust="spacingAndGlyphs">(Activated Carbon)</text>
<text x="600.6" y="55.4" style="font-family:'Liberation Serif',serif;font-weight:bold;font-size:7px" text-anchor="middle" textLength="26" lengthAdjust="spacingAndGlyphs">Separator</text>
<text x="600.9" y="62" style="font-family:'Liberation Serif',serif;font-weight:bold;font-size:7px" text-anchor="middle">and</text>
<text x="600.7" y="68.7" style="font-family:'Liberation Serif',serif;font-weight:bold;font-size:7px" text-anchor="middle" textLength="28" lengthAdjust="spacingAndGlyphs">Electrolyte</text>
<text x="534" y="108.6" style="font-family:'Liberation Serif',serif;font-weight:bold;font-size:6.6px" text-anchor="middle" textLength="60.5" lengthAdjust="spacingAndGlyphs">Positive electrode (CoS)</text>
<!-- photo -->
<g clip-path="url(#photoclip)">
<rect x="430" y="116" width="223" height="117" fill="url(#bgph)"/>
<g filter="url(#blur1)">
<ellipse cx="590" cy="168" rx="75" ry="30" fill="#c2c9cf" opacity="0.7"/>
<path d="M430,200 C470,205 500,210 540,214 C580,218 620,214 653,210 L653,233 L430,233 Z" fill="#8ea4b3" opacity="0.45"/>
<path d="M500,186 C530,180 570,182 600,190 L600,200 C570,196 530,194 500,196 Z" fill="#c4c2c2" opacity="0.5"/>
</g>
<rect x="430" y="116" width="223" height="117" filter="url(#phn)" opacity="0.35"/>
<g filter="url(#blur05)">
<!-- red wire -->
<path d="M530,134 C512,136 480,145 456,157 C444,164 438,172 437.5,183" stroke="#c42038" stroke-width="1.3" fill="none"/>
<path d="M535,134 C556,139 590,150 615,166 C635,178 648,190 649.2,201.5 C649.5,206 648.5,209 647.5,211" stroke="#c42038" stroke-width="1.2" fill="none"/>
<!-- LED -->
<rect x="529.2" y="132.6" width="5.5" height="3.8" fill="#e8e0da"/>
<circle cx="530" cy="127.3" r="3" fill="#9a3090"/>
<circle cx="530" cy="127.3" r="1.4" fill="#ffd8ff"/>
<!-- red alligator clip -->
<path d="M435.5,181.8 C440,181.4 444,181.6 448,182.2 C452.5,183 456,184.4 459.5,185.4 C463.5,186.6 467.5,187.8 471.5,188.8 C475.5,189.8 480,191 484,192.2 L486.5,195 L485.5,200.8 C480.5,200 475.5,199.3 471,198.5 C466,197.4 463,196.2 459.2,195 C455,193.8 451,192.6 447.5,191.6 C443,190.6 439,190.2 435.5,189.4 C433.8,188 433.6,183.6 435.5,181.8 Z" fill="#d41a30"/>
<path d="M440,184.6 C452,186 466,189 480,193" stroke="#e85060" stroke-width="0.9" fill="none" opacity="0.5"/>
<circle cx="442.5" cy="186" r="0.7" fill="#f4c0c8"/>
<circle cx="453.8" cy="191" r="0.7" fill="#f4c0c8"/>
<!-- left rod -->
<path d="M485.5,196.8 L502.4,201.4" stroke="#222" stroke-width="3"/>
<path d="M488,196.2 L501,199.8" stroke="#9a9a9a" stroke-width="0.6"/>
<!-- binder clip body -->
<polygon points="498.6,187.2 580.3,198.2 577.6,216.8 494.9,207.4" fill="#1a1a1e"/>
<polygon points="498.6,187.2 580.3,198.2 580,200 498.4,189.2" fill="#2c2c30"/>
<!-- ghost handle -->
<path d="M519.7,186.3 L528,174 L535.5,167.2 L543.4,170.5 L548.7,179.7 L550,186.3" stroke="#c9cdd0" stroke-width="1.4" fill="none" opacity="0.55"/>
<!-- handles -->
<path d="M507.7,207.6 L513.7,181.2 L522.6,170.6 L526,171 L532.2,180 L532.2,212.9 L515.8,213.8" stroke="#2e2e2e" stroke-width="1.1" fill="none" stroke-linejoin="round" opacity="0.8"/>
<path d="M507.2,207.4 L513.2,181 L522.4,169.9 L525.7,170.5 L531.6,179.7 L531.6,212.6 L515.8,213.3" stroke="#d4d8dc" stroke-width="1.1" fill="none" stroke-linejoin="round"/>
<path d="M550.5,192.7 L547.9,194.7 L542.6,226.3 L544.6,232.2 L557.1,232.2 L561,226.3 L565,200 L563.7,194.1 Z" stroke="#2e2e2e" stroke-width="1.1" fill="none" stroke-linejoin="round" opacity="0.8"/>
<path d="M550,192.2 L547.4,194.2 L542.1,225.8 L544.1,231.7 L556.6,231.7 L560.5,225.8 L564.5,199.5 L563.2,193.6 Z" stroke="#d4d8dc" stroke-width="1.1" fill="none" stroke-linejoin="round"/>
<!-- right rod -->
<path d="M565.8,209.6 L589.5,210.9" stroke="#2a2a24" stroke-width="3"/>
<path d="M566,208.8 L589,210" stroke="#a8a890" stroke-width="0.6"/>
<!-- black alligator clip -->
<path d="M588.4,208 C596,206.5 606,205.6 616,205.8 C626,206.2 636,207.5 645,209 L648.5,210.5 L648.5,213.5 L645,214.8 C636,216 624,217.6 612,217.8 C602,217.6 594,216.2 588.4,214.5 Z" fill="#121212"/>
<ellipse cx="634" cy="212.3" rx="3.2" ry="1.1" fill="#c8d0d4"/>
</g>
<!-- logo -->
<g transform="translate(631.6,135.2)" filter="url(#blur03)">
  <path d="M0,-19.5 L3.2,-19.2 L3.8,-16.5 L7.2,-15.2 L9.6,-16.8 L12.2,-14.9 L11.4,-12.2 L13.8,-9.4 L16.6,-9.8 L17.9,-6.9 L15.7,-5 L16.2,-1.5 L18.8,-0.3 L18.6,2.9 L15.9,3.6 L14.7,6.9 L16.4,9.1 L14.5,11.6 L11.8,10.8 L9,13 L9.4,15.8 L6.5,17.2 L4.7,15 L1.2,15.4 L0,17 L-1.2,15.4 L-4.7,15 L-6.5,17.2 L-9.4,15.8 L-9,13 L-11.8,10.8 L-14.5,11.6 L-16.4,9.1 L-14.7,6.9 L-15.9,3.6 L-18.6,2.9 L-18.8,-0.3 L-16.2,-1.5 L-15.7,-5 L-17.9,-6.9 L-16.6,-9.8 L-13.8,-9.4 L-11.4,-12.2 L-12.2,-14.9 L-9.6,-16.8 L-7.2,-15.2 L-3.8,-16.5 L-3.2,-19.2 Z" fill="#fff" stroke="#a81428" stroke-width="1.2"/>
  <circle r="12.3" fill="#fff" stroke="#a81428" stroke-width="1.3"/>
  <path d="M-9,-7.5 A11,11 0 0 1 9,-7.5" fill="none" stroke="#b02a3c" stroke-width="1.6" stroke-dasharray="1.1 0.7"/>
  <path d="M-9.6,-2.5 L-8,-5 L-6,-3.8 L-4.5,-6 L-2.5,-4.6 L-0.8,-6.6 L1,-5.2 L2.6,-6 L3,-9 L5.2,-9 L5.4,-5.5 L7.5,-6.6 L9.6,-2.5 Z" fill="#a81428"/>
  <rect x="-11.8" y="-2.6" width="23.6" height="3.4" fill="#a81428"/>
  <path d="M-11,-0.9 H11" stroke="#f0c8cc" stroke-width="0.7" stroke-dasharray="1 1.2"/>
  <path d="M-4.5,7.5 C-4,4.5 -0.5,4 0.5,6.5 C1.5,4 5,4.5 5,7.5 C3,9 -2.5,9 -4.5,7.5 Z" fill="none" stroke="#b02a3c" stroke-width="0.9"/>
  <rect x="-20.5" y="15.1" width="40.5" height="6.7" fill="#fbeef0" stroke="#a81428" stroke-width="1.1"/>
  <path d="M-18.3,18.5 H17.8" stroke="#b0283c" stroke-width="2.2" stroke-dasharray="1.5 0.5"/>
</g>
</g>

</svg>
</body></html>
